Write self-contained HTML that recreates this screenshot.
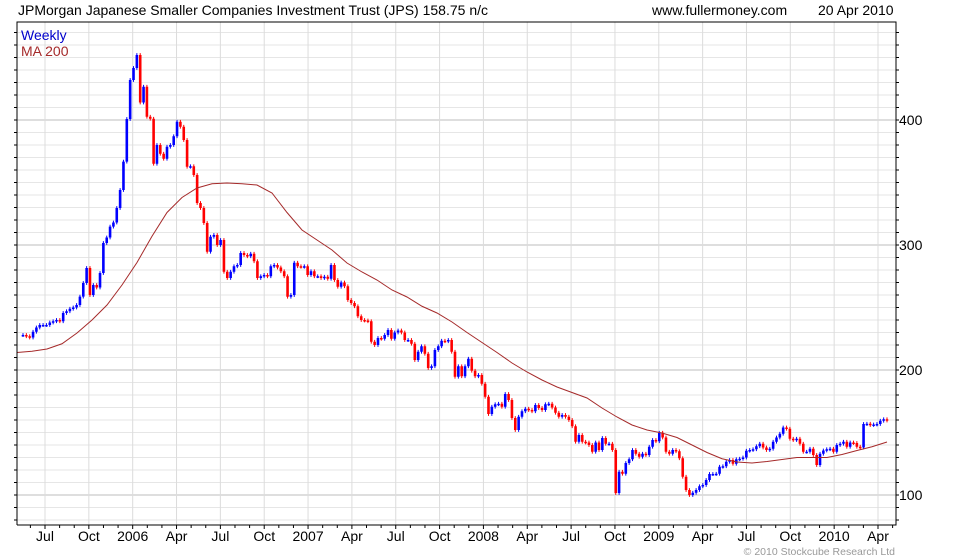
<!DOCTYPE html>
<html><head><meta charset="utf-8">
<style>
body{margin:0;background:#fff;}
svg{display:block;font-family:"Liberation Sans",sans-serif;}
</style></head>
<body>
<svg id="chart" width="980" height="560" viewBox="0 0 980 560">
<text x="18" y="15" font-size="14" fill="#000">JPMorgan Japanese Smaller Companies Investment Trust (JPS) 158.75 n/c</text>
<text x="652" y="15" font-size="14" fill="#000">www.fullermoney.com</text>
<text x="818" y="15" font-size="14" fill="#000">20 Apr 2010</text>
<g id="grid"></g>
<g id="marks"></g>
<g id="axes"></g>
<text x="21" y="40" font-size="14" fill="#0000cc">Weekly</text>
<text x="21" y="56" font-size="14" fill="#a52a2a">MA 200</text>
<text x="895" y="555" font-size="10.5" fill="#999" text-anchor="end">© 2010 Stockcube Research Ltd</text>
</svg>
<script>
const closes=[228,227,226,230.6,234,236,236,236,238,239,240,239,245.6,247,249,250,252,258.7,269.6,281.6,260,268,266,277.6,301.6,306,314.7,318,329.6,344,366.7,400.8,432,441.6,452,414,426.6,402.6,401,365,380,373,369,378.6,380,387,398.6,394.6,384,362.6,363,356,333.6,329.6,317.6,294.6,306.6,308,300,304,278.6,273.6,278.6,283,284,293.6,292,291,293,287,273.6,275,276,275,283,284,282,279,275,258.6,260,285.8,283,282.6,283,276,279,275,275,273.6,274.6,273,284,272,266.6,270,267,256,253.6,251,243,240,239.6,239,222.6,220,225.6,225,228,232,225,230,231.6,230,224,224,221,208,214.6,219,213,201.6,203,216,219,223.4,223,224,214.6,194.6,203,195,203,209,199.4,195,196,189,178.6,164.8,170.6,172.6,173,170.6,180.8,176,161.6,152,162.6,167,169,168,167,172,169.6,168,172.6,173,170,165.8,162.6,164,162.6,160,155,142.6,148,142.6,142,140,134.6,142,136,145.6,141,141,136,101.6,118.6,117,125.6,128.6,136,133,130.6,133,132,138.6,144,143,149.8,146,134.6,133,136,135,129.4,114.6,104,100,101.8,104,107,108,112,116.8,116.8,117,122.6,123,126.6,128,125,128.6,129,130,135.4,136,136.6,139,141,138,136,137,142.6,146,149,154,153,145,144,145,141,134.6,134.6,137,132,124,133,135.6,136.6,137,134.6,140,141,142.6,138.6,142,141.6,138.6,138,156.8,157,156,156.4,156.8,159.4,160.6,159.6];
const maValues=[214,215,216.8,221,229.6,240,252,268,286,307,326,338,345.6,349,349.6,349,348,341.6,326,312,304,296,285.6,278.4,272,264,258.4,251,245.6,238.4,230,222,214,205.6,198.4,192,186.4,182,177.6,169.6,162.4,156,152,149.6,146,140,134,129,126.4,125.6,126.8,128.4,130,130,130,132.4,135.6,138.6,142.4];
const yTicks=[100,200,300,400];
const xLabels=["Jul","Oct","2006","Apr","Jul","Oct","2007","Apr","Jul","Oct","2008","Apr","Jul","Oct","2009","Apr","Jul","Oct","2010","Apr"];
const NS="http://www.w3.org/2000/svg";
const L=17,R=896,T=22,B=525;
const y=v=>495-(v-100)*1.25;
const firstX=23,lastX=887;
const bx=i=>firstX+i*(lastX-firstX)/(closes.length-1);
const mx=i=>17+i*15;
const qx=i=>45+i*(878-45)/(xLabels.length-1);
function mk(tag,attrs,parent){const e=document.createElementNS(NS,tag);for(const k in attrs)e.setAttribute(k,attrs[k]);parent.appendChild(e);return e;}
const grid=document.getElementById('grid'),marks=document.getElementById('marks'),axes=document.getElementById('axes');
for(let v=80;v<=470;v+=10){const yy=y(v);if(yy<T||yy>B)continue;
 const major=v%100===0;
 const g=mk('line',{x1:L,x2:R,y1:yy,y2:yy,stroke:major?'#bdbdbd':'#e6e6e6','stroke-width':1},grid);
 
 
 const t1=mk('line',{x1:L-3,x2:L,y1:yy,y2:yy,stroke:'#000'},axes);
 
 
 const t2=mk('line',{x1:R,x2:R+3,y1:yy,y2:yy,stroke:'#000'},axes);
 
 
}
xLabels.forEach((lab,i)=>{const xx=qx(i);
 const g=mk('line',{x1:xx,x2:xx,y1:T,y2:B,stroke:'#dcdcdc'},grid);
 
 
 const t=mk('text',{x:xx,y:541,'font-size':14,'text-anchor':'middle',fill:'#000'},axes);
 t.textContent=lab;
 
 
 for(let m=0;m<3;m++){const tx=xx+(m-1)*(878-45)/(xLabels.length-1)/3;if(tx<L||tx>R)continue;
  const tk=mk('line',{x1:tx,x2:tx,y1:B,y2:B+(m===1?4:3),stroke:'#000'},axes);
  
  }
});
yTicks.forEach(v=>{const t=mk('text',{x:R+3,y:y(v)+5,'font-size':14,fill:'#000'},axes);t.textContent=v;
 
 });
const frame=mk('path',{d:`M${L},${B}V${T}H${R}V${B}H${L}`,fill:'none',stroke:'#000'},axes);


closes.forEach((c,i)=>{const o=i?closes[i-1]:c;const up=c>=o;const col=up?'#0000ff':'#ff0000';const x=bx(i);
 const hi=Math.max(o,c)+1.5,lo=Math.min(o,c)-1.5;
 const w=mk('line',{x1:x,x2:x,y1:y(hi),y2:y(lo),stroke:col,'stroke-width':1},marks);
 
 
 const top=y(Math.max(o,c)),h=Math.max(1.5,Math.abs(y(o)-y(c)));
 const r=mk('rect',{x:x-1.3,y:top,width:2.6,height:h,fill:col},marks);
 
 
});
const ma=mk('polyline',{points:maValues.map((v,i)=>mx(i)+','+y(v)).join(' '),fill:'none',stroke:'#a52a2a','stroke-width':1},marks);


</script>
</body></html>
